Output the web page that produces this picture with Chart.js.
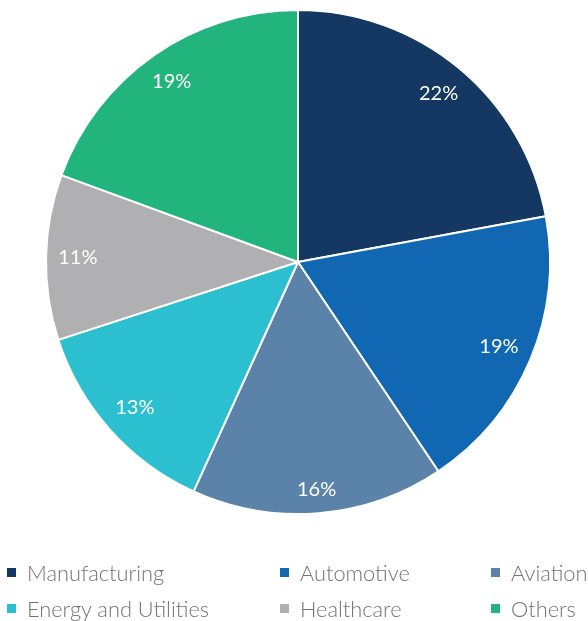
<!DOCTYPE html>
<html>
<head>
<meta charset="utf-8">
<script src="https://cdn.jsdelivr.net/npm/chart.js@4/dist/chart.umd.min.js"></script>
<style>
  html, body { margin: 0; padding: 0; background: #fff; }
  #wrap { position: relative; width: 588px; height: 621px; overflow: hidden; }
  #pie { position: absolute; left: 0; top: 0; width: 588px; height: 524px; }
  #legend { position: absolute; left: 0; top: 0; width: 588px; height: 621px; font-family: Lato, sans-serif; font-weight: 300; font-size: 21.8px; color: #737373; }
  .item { position: absolute; height: 30px; display: flex; align-items: center; white-space: nowrap; }
  .box { width: 9px; height: 9px; margin-right: 11px; flex: none; }
</style>
</head>
<body>
<div id="wrap">
  <div id="pie"><canvas id="c"></canvas></div>
  <div id="legend"></div>
</div>
<script>
const categories = ["Manufacturing", "Automotive", "Aviation", "Energy and Utilities", "Healthcare", "Others"];
const shares = [22.1, 18.5, 16.2, 13.2, 10.6, 19.4];
const colors = ["#143861", "#1167b1", "#5b83a9", "#2bbfcf", "#b0b0b3", "#21b47c"];

// percentage labels, placed just inside the outer edge
const sliceLabels = {
    id: "sliceLabels",
    afterDatasetsDraw(chart) {
        const ctx = chart.ctx;
        const meta = chart.getDatasetMeta(0);
        ctx.save();
        ctx.fillStyle = "#ffffff";
        ctx.font = "20px Lato, sans-serif";
        ctx.textAlign = "center";
        ctx.textBaseline = "middle";
        meta.data.forEach((arc, i) => {
            const txt = Math.round(shares[i]) + "%";
            const w = ctx.measureText(txt).width;
            const mid = (arc.startAngle + arc.endAngle) / 2;
            const cx = Math.cos(mid), cy = Math.sin(mid);
            const r = arc.outerRadius - 12 - (Math.abs(cx) * w / 2 + Math.abs(cy) * 10);
            ctx.fillText(txt, arc.x + cx * r, arc.y + cy * r);
        });
        ctx.restore();
    },
};

new Chart(document.getElementById("c"), {
    type: "pie",
    data: {
        labels: categories,
        datasets: [{
            data: shares,
            backgroundColor: colors,
            borderColor: "#ffffff",
            borderWidth: 2,
        }],
    },
    options: {
        responsive: true,
        maintainAspectRatio: false,
        animation: false,
        layout: { padding: { left: 8, top: 9, bottom: 9 } },
        plugins: {
            legend: { display: false },
            tooltip: { enabled: false },
        },
    },
    plugins: [sliceLabels],
});

// legend laid out as a 3-column grid
const colX = [7, 280, 491];
const rowY = [572, 608];
const legend = document.getElementById("legend");
categories.forEach((name, i) => {
    const el = document.createElement("div");
    el.className = "item";
    el.style.left = colX[i % 3] + "px";
    el.style.top = (rowY[Math.floor(i / 3)] - 15) + "px";
    el.innerHTML = '<span class="box" style="background:' + colors[i] + '"></span><span>' + name + '</span>';
    legend.appendChild(el);
});
</script>
</body>
</html>
